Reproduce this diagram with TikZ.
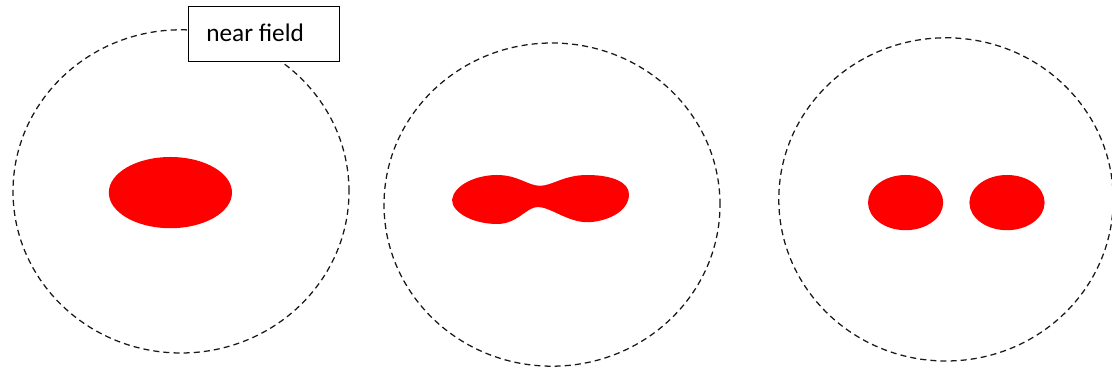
\documentclass[tikz,border=0pt]{standalone}
\usepackage{fontspec}
\setmainfont{Carlito}
\usepackage{tikz}
\usetikzlibrary{positioning}

\begin{document}
\begin{tikzpicture}[
		field/.style={draw=black!90, line width=0.9pt, dash pattern=on 4.3pt off 2.9pt},
		blob/.style={fill=red, draw=none},
		tag/.style={shape=rectangle, draw, fill=white, line width=0.7pt, minimum width=3.775cm, minimum height=1.375cm}]
			\useasboundingbox (0, 0) rectangle (27.8, 9.275);
			% Fields and sources:
			\draw[field] (4.525, 4.49) ellipse (4.2 and 4.04);
			\fill[blob] (4.26, 4.46) ellipse (1.54 and 0.89);
			\draw[field] (13.8, 4.16) ellipse (4.2 and 4.04);
			\fill[blob] (11.3, 4.28) .. controls (11.35, 4.65) and (11.9, 4.9) .. (12.425, 4.9)
				.. controls (12.95, 4.9) and (13.2, 4.63) .. (13.5, 4.63)
				.. controls (13.8, 4.63) and (14.1, 4.9) .. (14.675, 4.9)
				.. controls (15.3, 4.9) and (15.725, 4.72) .. (15.725, 4.42)
				.. controls (15.725, 3.95) and (15.1, 3.72) .. (14.675, 3.72)
				.. controls (14.2, 3.72) and (13.75, 4.1) .. (13.45, 4.1)
				.. controls (13.15, 4.1) and (12.95, 3.675) .. (12.425, 3.675)
				.. controls (11.85, 3.675) and (11.3, 3.95) .. cycle;
			\draw[field] (23.65, 4.29) ellipse (4.18 and 4.04);
			\fill[blob] (22.64, 4.21) ellipse (0.94 and 0.69);
			\fill[blob] (25.175, 4.21) ellipse (0.94 and 0.69);
			\node[tag](T1) at (6.5875, 8.4125){} node[anchor=west, inner sep=0pt, font=\fontsize{18pt}{22pt}\selectfont] (L1) at (5.15, 8.45){near field};
		\end{tikzpicture}
\end{document}
